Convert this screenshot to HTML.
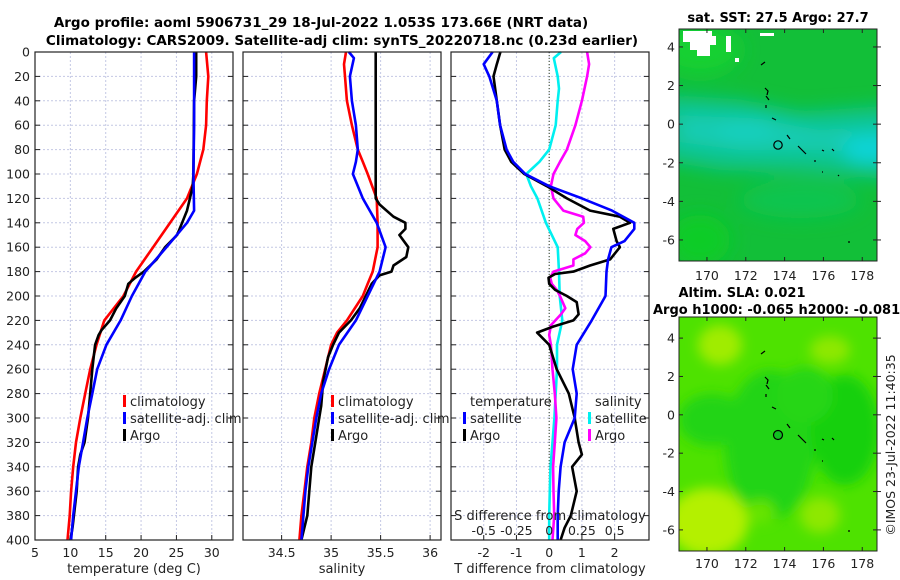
<!DOCTYPE html>
<html><head><meta charset="utf-8">
<style>
html,body{margin:0;padding:0;background:#fff;}
svg{display:block;font-family:"DejaVu Sans","Liberation Sans",sans-serif;}
</style></head>
<body>
<svg id="fig" width="900" height="580" viewBox="0 0 900 580" xmlns="http://www.w3.org/2000/svg">
<defs>
<filter id="blur1" x="-20%" y="-20%" width="140%" height="140%"><feGaussianBlur stdDeviation="9"/></filter>
<filter id="blur2" x="-20%" y="-20%" width="140%" height="140%"><feGaussianBlur stdDeviation="6"/></filter>
<clipPath id="clipM1"><rect x="679" y="29" width="198" height="232"/></clipPath>
<clipPath id="clipM2"><rect x="679" y="317" width="198" height="234"/></clipPath>
</defs>
<text x="321" y="27" font-size="13.5" font-weight="bold" text-anchor="middle">Argo profile: aoml 5906731_29 18-Jul-2022 1.053S 173.66E (NRT data)</text>
<text x="342" y="45" font-size="13.5" font-weight="bold" text-anchor="middle">Climatology: CARS2009. Satellite-adj clim: synTS_20220718.nc (0.23d earlier)</text>

<!-- map 1 -->
<g clip-path="url(#clipM1)">
<rect x="679" y="29" width="198" height="232" fill="#12bf38"/>
<g filter="url(#blur1)">
<polygon points="660,95 740,100 800,112 900,105 900,180 800,172 720,170 660,160" fill="#10c48c"/>
<polygon points="680,115 760,118 820,130 900,125 900,158 820,150 740,150 680,142" fill="#14ccb4"/>
<ellipse cx="870" cy="150" rx="28" ry="13" fill="#10d4d8"/>
<ellipse cx="745" cy="130" rx="28" ry="10" fill="#18d0c0"/>
<ellipse cx="700" cy="50" rx="40" ry="25" fill="#14d030"/>
<ellipse cx="700" cy="240" rx="30" ry="25" fill="#10cc28"/>
<ellipse cx="800" cy="200" rx="60" ry="18" fill="#10c450"/>
</g>
<polygon points="683,31 712,31 712,36 716,36 716,45 710,45 710,56 697,56 697,50 690,50 690,42 683,42" fill="#fff"/>
<rect x="726" y="36" width="5" height="16" fill="#fff"/>
<rect x="735" y="58" width="4" height="4" fill="#fff"/>
<rect x="760" y="33" width="14" height="3" fill="#fff"/>
</g>
<g stroke="#000" stroke-width="1.2" fill="none">
<path d="M761,65 l4,-3 M765,88 l3,3 l-1,4 M766,96 l3,4 M766,105 l0,3 M772,118 l4,2 M787,135 l3,4 M798,146 l8,8 M822,150 l2,1 M832,149 l2,2 M815,160 l0,2 M822,172 l1,0 M838,175 l1,1 M848,242 l2,0"/>
<circle cx="778" cy="145" r="4.2"/>
</g>
<rect x="679" y="29" width="198" height="232" fill="none" stroke="#222" stroke-width="1"/>
<text x="778" y="22" font-size="13" font-weight="bold" text-anchor="middle">sat. SST: 27.5 Argo: 27.7</text>

<!-- map 2 -->
<g clip-path="url(#clipM2)">
<rect x="679" y="317" width="198" height="234" fill="#4ee200"/>
<g filter="url(#blur2)">
<ellipse cx="770" cy="445" rx="45" ry="75" fill="#22d414"/>
<ellipse cx="712" cy="420" rx="34" ry="26" fill="#24d418"/>
<ellipse cx="845" cy="430" rx="34" ry="55" fill="#14d010"/>
<ellipse cx="805" cy="395" rx="28" ry="28" fill="#28d616"/>
<ellipse cx="708" cy="522" rx="40" ry="34" fill="#b4f000"/>
<ellipse cx="720" cy="345" rx="22" ry="20" fill="#a0ec00"/>
<ellipse cx="830" cy="350" rx="20" ry="14" fill="#8ee800"/>
<ellipse cx="820" cy="515" rx="20" ry="18" fill="#8ee800"/>
<ellipse cx="760" cy="512" rx="15" ry="12" fill="#66e400"/>
</g>
</g>
<g stroke="#000" stroke-width="1.2" fill="none">
<path d="M761,354 l4,-3 M765,377 l3,3 l-1,4 M766,385 l3,4 M766,394 l0,3 M772,407 l4,2 M787,424 l3,4 M798,435 l8,8 M822,439 l2,1 M832,438 l2,2 M815,449 l0,2 M822,461 l1,0 M848,531 l2,0"/>
<circle cx="778" cy="435" r="4.5" fill="#10c020"/>
</g>
<rect x="679" y="317" width="198" height="234" fill="none" stroke="#222" stroke-width="1"/>
<text x="742" y="297" font-size="13" font-weight="bold" text-anchor="middle">Altim. SLA: 0.021</text>
<text x="653" y="314" font-size="13" font-weight="bold">Argo h1000: -0.065 h2000: -0.081</text>
<text transform="translate(895,445) rotate(-90)" font-size="12.5" text-anchor="middle" fill="#222">©IMOS 23-Jul-2022 11:40:35</text>

<g id="charts"></g>
</svg>
<script>
// ---- data ----
const presTicks = [0,20,40,60,80,100,120,140,160,180,200,220,240,260,280,300,320,340,360,380,400];
const tempTicks = [5,10,15,20,25,30];
const salTicks = [34.5,35,35.5,36];
const dtTicks = [-2,-1,0,1,2];
const dsTickLabels = ["-0.5","-0.25","0","0.25","0.5"];
const dsTicks = [-0.5,-0.25,0,0.25,0.5];
const lonTicks = [170,172,174,176,178];
const latTicks = [4,2,0,-2,-4,-6];

const tClimP = [0,20,40,60,80,100,120,140,160,180,200,220,240,260,280,300,320,340,360,380,400];
const tClimV = [29.2,29.5,29.3,29.2,28.8,27.9,26.5,24.1,21.7,19.3,17.5,14.8,13.7,12.8,12.1,11.4,10.8,10.4,10.1,9.9,9.6];
const tSatP = [0,60,100,130,140,160,180,200,220,240,260,280,300,320,340,360,380,400];
const tSatV = [27.5,27.5,27.4,27.5,26.5,23.6,20.6,18.7,17.1,15.1,13.8,13.1,12.4,11.8,11.2,10.8,10.4,10.1];
const tArgoP = [0,20,40,100,110,120,130,140,150,160,170,180,185,190,200,210,220,228,232,240,260,280,300,320,330,340,360,380,390,400];
const tArgoV = [27.8,27.8,27.5,27.4,27.3,26.9,26.5,25.8,25.1,23.4,22.2,20.4,19.2,18.2,17.7,16.5,15.6,14.4,14.0,13.5,13.1,12.8,12.5,12.0,11.4,11.1,10.9,10.5,10.3,10.0];

const sClimP = [0,10,20,40,60,80,90,100,120,140,160,180,190,200,220,230,240,260,280,300,320,340,360,380,400];
const sClimV = [35.15,35.13,35.14,35.16,35.21,35.27,35.32,35.37,35.46,35.47,35.47,35.42,35.37,35.32,35.16,35.06,35.00,34.94,34.88,34.83,34.80,34.76,34.73,34.70,34.68];
const sSatP = [0,5,20,40,60,80,90,100,120,140,160,180,200,220,240,260,280,300,320,340,360,380,400];
const sSatV = [35.18,35.23,35.19,35.21,35.25,35.27,35.25,35.22,35.32,35.46,35.55,35.49,35.37,35.25,35.08,34.98,34.90,34.85,34.81,34.77,34.74,34.72,34.70];
const sArgoP = [0,60,120,125,135,140,145,150,160,168,175,180,183,190,200,210,220,230,240,250,270,290,300,320,340,360,380,400];
const sArgoV = [35.45,35.45,35.45,35.49,35.63,35.75,35.75,35.69,35.78,35.76,35.63,35.61,35.49,35.41,35.35,35.29,35.20,35.08,35.02,34.97,34.92,34.90,34.88,34.84,34.80,34.78,34.76,34.70];

const dtSatP = [0,10,20,40,60,80,90,100,110,120,130,140,145,155,160,170,180,200,220,240,260,280,300,320,340,360,380,400];
const dtSatV = [-1.73,-2.0,-1.83,-1.6,-1.5,-1.3,-1.1,-0.73,0.0,1.0,1.92,2.6,2.6,2.3,1.9,1.8,1.75,1.72,1.3,0.84,0.72,0.84,0.78,0.47,0.35,0.29,0.26,0.26];
const dtArgoP = [0,10,20,40,60,80,90,100,110,120,130,135,140,145,155,160,170,175,180,182,185,190,195,200,205,215,220,225,230,240,260,280,300,320,330,340,360,380,390,400];
const dtArgoV = [-1.49,-1.6,-1.7,-1.6,-1.5,-1.36,-1.16,-0.76,-0.07,0.54,1.25,2.16,2.47,1.96,2.06,2.16,1.86,1.25,0.74,0.18,-0.02,0.0,0.18,0.54,0.84,0.9,0.74,0.13,-0.37,0.0,0.23,0.6,0.78,0.9,1.0,0.7,0.84,0.66,0.47,0.35];
const dsSatP = [0,5,20,30,40,60,80,90,100,110,120,140,160,180,200,220,240,260,280,300,320,340,360,380,400];
const dsSatV = [0.09,0.035,0.065,0.075,0.065,0.05,0,-0.075,-0.175,-0.14,-0.09,-0.025,0.065,0.075,0.08,0.1,0.06,0.06,0.05,0.04,0.025,0.01,0.005,0,0];
const dsArgoP = [0,10,20,40,60,80,90,100,110,120,130,135,140,145,150,155,160,165,170,175,180,185,190,195,200,210,215,224,232,240,260,280,300,320,340,360,380,400];
const dsArgoV = [0.29,0.305,0.29,0.25,0.2,0.135,0.083,0.033,0.013,0.033,0.108,0.26,0.265,0.215,0.2,0.275,0.315,0.275,0.185,0.185,0.033,0.008,0.02,0.058,0.083,0.123,0.09,0.013,0,0.013,0.025,0.043,0.055,0.043,0.03,0.033,0.038,0.025];

// ---- axes ----
const NS = "http://www.w3.org/2000/svg";
const root = document.getElementById('charts');
const Y0 = 52, Y1 = 540;
function yP(p){ return Y0 + (p/400)*(Y1-Y0); }
function lin(d0,d1,r0,r1){ return v => r0 + (v-d0)/(d1-d0)*(r1-r0); }
const xT = lin(5,33,35,233);
const xS = lin(34.11,36.11,243,441);
const xD = lin(-3,3.05,451,649);
const xDS = v => xD(v*4);
const xLon = lin(168.56,178.76,679,877);
const yLat1 = lin(4.93,-7.09,29,261);
const yLat2 = lin(5.1,-7.1,317,551);

function el(tag, attrs, parent){
  const e = document.createElementNS(NS, tag);
  for (const k in attrs) e.setAttribute(k, attrs[k]);
  (parent||root).appendChild(e);
  return e;
}
function txt(s, x, y, size, anchor, parent){
  const t = el('text', {x:x, y:y, 'font-size':size, 'text-anchor':anchor||'middle', fill:'#222'}, parent);
  t.textContent = s;
  return t;
}

function panel(name, x0, x1, xs, ticks, labels, xlabel){
  const g = el('g', {});
  
  
  el('rect', {x:x0, y:Y0, width:x1-x0, height:Y1-Y0, fill:'#fff'}, g);
  presTicks.forEach(p => {
    const l = el('line', {x1:x0, x2:x1, y1:yP(p), y2:yP(p), stroke:'#c4c8e4', 'stroke-width':1, 'stroke-dasharray':'2,2'}, g);
    
    
    el('line', {x1:x0, x2:x0+5, y1:yP(p), y2:yP(p), stroke:'#222', 'stroke-width':1}, g);
    el('line', {x1:x1-5, x2:x1, y1:yP(p), y2:yP(p), stroke:'#222', 'stroke-width':1}, g);
  });
  ticks.forEach((v,i) => {
    const X = xs(v);
    const l = el('line', {x1:X, x2:X, y1:Y0, y2:Y1, stroke:'#c4c8e4', 'stroke-width':1, 'stroke-dasharray':'2,2'}, g);
    
    
    el('line', {x1:X, x2:X, y1:Y1-5, y2:Y1, stroke:'#222', 'stroke-width':1}, g);
    const t = txt(labels[i], X, 557, 12.5, 'middle', g);
    
    
  });
  const xl = txt(xlabel, (x0+x1)/2, 573, 13, 'middle', g);
  
  
  return g;
}
function series(g, name, P, V, xs, color){
  const d = P.map((p,i) => (i?'L':'M') + xs(V[i]).toFixed(1) + ',' + yP(p).toFixed(1)).join(' ');
  const path = el('path', {d:d, fill:'none', stroke:color, 'stroke-width':2.6, 'stroke-linejoin':'round'}, g);
  
  
}
function frame(g, x0, x1){
  el('rect', {x:x0, y:Y0, width:x1-x0, height:Y1-Y0, fill:'none', stroke:'#222', 'stroke-width':1.2}, g);
}
function legend(g, items, x, y){
  items.forEach((it,i) => {
    const yy = y + i*17;
    const b = el('rect', {x:x, y:yy-11, width:3, height:12, fill:it[1]}, g);
    
    
    const t = txt(it[0], x+7, yy, 13, 'start', g);
    
    
  });
}

// y tick labels
presTicks.forEach(p => {
  const t = txt(String(p), 30, yP(p)+4.5, 12.5, 'end');
  
  
});

// panel 1
const g1 = panel('temperature-panel', 35, 233, xT, tempTicks, tempTicks.map(String), 'temperature (deg C)');
series(g1, 'temp-climatology-line', tClimP, tClimV, xT, '#ff0000');
series(g1, 'temp-argo-line', tArgoP, tArgoV, xT, '#000000');
series(g1, 'temp-satellite-line', tSatP, tSatV, xT, '#0000ff');
frame(g1, 35, 233);
legend(g1, [['climatology','#ff0000'],['satellite-adj. clim','#0000ff'],['Argo','#000000']], 123, 406);

// panel 2
const g2 = panel('salinity-panel', 243, 441, xS, salTicks, salTicks.map(String), 'salinity');
series(g2, 'sal-climatology-line', sClimP, sClimV, xS, '#ff0000');
series(g2, 'sal-argo-line', sArgoP, sArgoV, xS, '#000000');
series(g2, 'sal-satellite-line', sSatP, sSatV, xS, '#0000ff');
frame(g2, 243, 441);
legend(g2, [['climatology','#ff0000'],['satellite-adj. clim','#0000ff'],['Argo','#000000']], 331, 406);

// panel 3
const g3 = panel('difference-panel', 451, 649, xD, dtTicks, dtTicks.map(String), 'T difference from climatology');
const zl = el('line', {x1:xD(0), x2:xD(0), y1:Y0, y2:Y1, stroke:'#334422', 'stroke-width':1, 'stroke-dasharray':'1,2'}, g3);


series(g3, 'sal-diff-satellite-line', dsSatP, dsSatV, xDS, '#00f0f0');
series(g3, 'sal-diff-argo-line', dsArgoP, dsArgoV, xDS, '#ff00ff');
series(g3, 'temp-diff-argo-line', dtArgoP, dtArgoV, xD, '#000000');
series(g3, 'temp-diff-satellite-line', dtSatP, dtSatV, xD, '#0000ff');
frame(g3, 451, 649);
const tt = txt('temperature', 470, 406, 13, 'start', g3);


legend(g3, [['satellite','#0000ff'],['Argo','#000000']], 463, 423);
const st = txt('salinity', 595, 406, 13, 'start', g3);


legend(g3, [['satellite','#00f0f0'],['Argo','#ff00ff']], 588, 423);
const sdt = txt('S difference from climatology', 550, 520, 13, 'middle', g3);


dsTicks.forEach((v,i) => {
  const t = txt(dsTickLabels[i], xDS(v), 535, 12.5, 'middle', g3);
  
  
});

// map axes
function mapAxes(name, yLat, yTop, yBot, xlabY){
  const g = el('g', {});
  
  
  lonTicks.forEach(v => {
    const X = xLon(v);
    el('line', {x1:X, x2:X, y1:yTop, y2:yTop+4, stroke:'#222'}, g);
    el('line', {x1:X, x2:X, y1:yBot-4, y2:yBot, stroke:'#222'}, g);
    const t = txt(String(v), X, xlabY, 12.5, 'middle', g);
    
    
  });
  latTicks.forEach(v => {
    const Y = yLat(v);
    el('line', {x1:679, x2:683, y1:Y, y2:Y, stroke:'#222'}, g);
    el('line', {x1:873, x2:881, y1:Y, y2:Y, stroke:'#222'}, g);
    const t = txt(String(v), 675, Y+4.5, 12.5, 'end', g);
    
    
  });
}
mapAxes('sst-map-axes', yLat1, 29, 261, 280);
mapAxes('sla-map-axes', yLat2, 317, 551, 568);
</script>
</body></html>
